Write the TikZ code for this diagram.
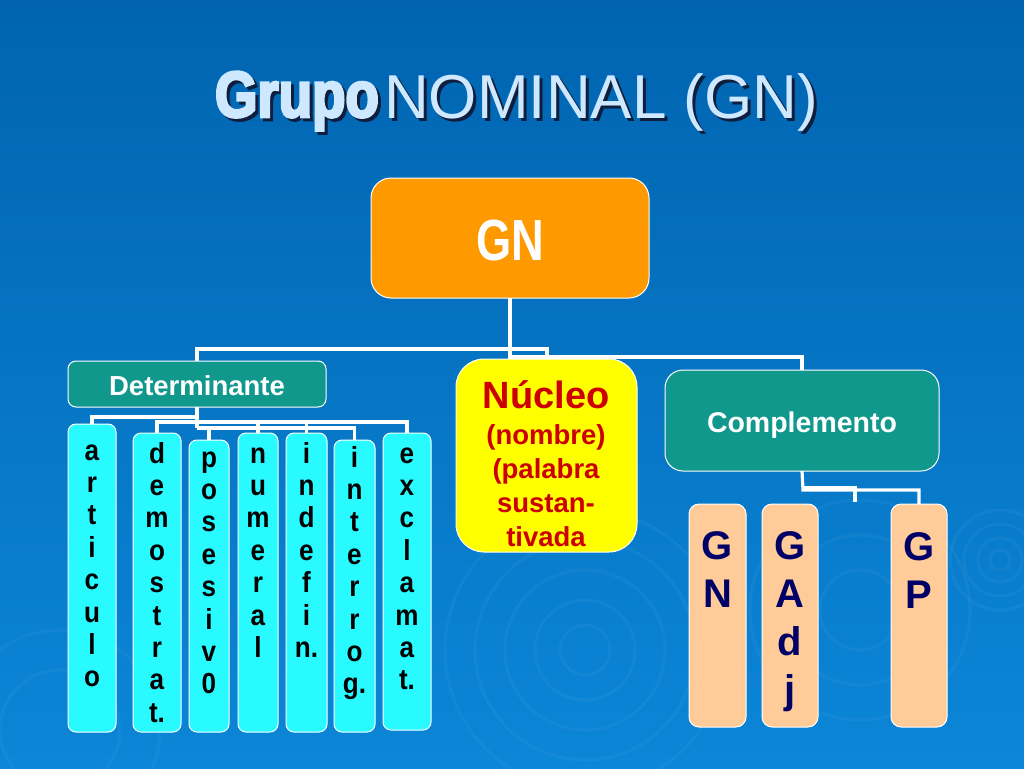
\documentclass[tikz,border=0pt]{standalone}
\usepackage{fontspec}
\setmainfont{Liberation Sans}
\newfontfamily\gnfont[FakeStretch=0.78]{Liberation Sans}
\newfontfamily\colfont[FakeStretch=0.9]{Liberation Sans}
\newfontfamily\impactish[FakeStretch=0.84,BoldFeatures={FakeBold=4}]{Liberation Sans}
\definecolor{bgtop}{RGB}{0,100,176}
\definecolor{bgbot}{RGB}{12,134,216}
\definecolor{titlec}{RGB}{205,232,255}
\definecolor{shadowc}{RGB}{15,30,60}
\definecolor{orangec}{RGB}{255,153,0}
\definecolor{tealc}{RGB}{16,152,140}
\definecolor{yellowc}{RGB}{255,255,0}
\definecolor{redc}{RGB}{204,0,0}
\definecolor{cyanc}{RGB}{40,250,255}
\definecolor{peachc}{RGB}{255,204,153}
\definecolor{navyc}{RGB}{0,0,102}
\newcommand{\lettercol}[1]{\begin{tabular}[t]{@{}c@{}}#1\end{tabular}}
\newcommand{\shadowed}[1]{\makebox[0pt][l]{\hspace{3pt}\raisebox{-3pt}{\color{shadowc}#1}}#1}
\tikzset{
  box/.style={draw=white, line width=1pt, inner sep=0pt, outer sep=0pt},
  cybox/.style={box, fill=cyanc, rounded corners=8pt, minimum width=#1, minimum height=300pt},
  pebox/.style={box, fill=peachc, rounded corners=10pt, minimum width=56pt, minimum height=223pt},
  coltext/.style={inner sep=0pt, anchor=base, font=\colfont\bfseries\fontsize{29}{32.4}\selectfont},
  petext/.style={inner sep=0pt, anchor=base, text=navyc, font=\bfseries\fontsize{40}{48}\selectfont},
  conn/.style={draw=white, line width=3.2pt},
  ripple/.style={draw=white, opacity=0.04, line width=3pt}
}
\begin{document}
\begin{tikzpicture}[x=1pt,y=-1pt]
\useasboundingbox (0,0) rectangle (1024,768);
\shade[top color=bgtop, bottom color=bgbot] (0,0) rectangle (1024,768);
% ripples
\foreach \r in {25,50,80,110,140} \draw[ripple] (585,650) circle[radius=\r pt];
\foreach \r in {40,75,110} \draw[ripple] (860,610) circle[radius=\r pt];
\foreach \r in {10,22,36,50} \draw[ripple] (1000,560) circle[radius=\r pt];
\foreach \r in {60,100} \draw[ripple] (60,730) circle[radius=\r pt];

% title
\node[anchor=base east, inner sep=0pt, text=titlec, font=\impactish\bfseries\fontsize{65}{70}\selectfont] (grupo) at (379,117) {\shadowed{Grupo}};
\node[anchor=base west, inner sep=0pt, text=titlec, font=\fontsize{62}{70}\selectfont] (nom) at (384,118) {\shadowed{NOMINAL (GN)}};

% main boxes
\node[box, fill=orangec, rounded corners=20pt, minimum width=278pt, minimum height=120pt] (gn) at (510,238) {};
\node[inner sep=0pt, anchor=base, text=white, font=\gnfont\bfseries\fontsize{58}{60}\selectfont] (gnT) at (510,260) {GN};

\node[box, fill=tealc, rounded corners=8pt, minimum width=258pt, minimum height=46pt] (det) at (197,384) {};
\node[inner sep=0pt, anchor=base, text=white, font=\bfseries\fontsize{27.5}{30}\selectfont] (detT) at (197,395) {Determinante};

\node[box, fill=yellowc, rounded corners=28pt, minimum width=181pt, minimum height=193pt] (nuc) at (546.5,455.5) {};
\node[inner sep=0pt, anchor=base, text=redc, font=\bfseries\fontsize{38}{40}\selectfont] (nucT) at (546,408) {Núcleo};
\node[inner sep=0pt, anchor=base, text=redc, font=\bfseries\fontsize{27.5}{34}\selectfont] (nucS) at (546,444) {\lettercol{(nombre)\\(palabra\\sustan-\\tivada}};

\node[box, fill=tealc, rounded corners=18pt, minimum width=274pt, minimum height=101pt] (comp) at (802,420.5) {};
\node[inner sep=0pt, anchor=base, text=white, font=\bfseries\fontsize{28.5}{30}\selectfont] (compT) at (802,432) {Complemento};

% determinante children
\node[cybox=48pt, minimum height=308pt] (art) at (92,578) {};
\node[cybox=48pt, minimum height=299pt] (dem) at (157,582.5) {};
\node[cybox=40pt, minimum height=292pt] (pos) at (209,586) {};
\node[cybox=40pt, minimum height=299pt] (num) at (258,582.5) {};
\node[cybox=41pt, minimum height=299pt] (ind) at (306.5,582.5) {};
\node[cybox=41pt, minimum height=292pt] (int) at (354.5,586) {};
\node[cybox=48pt, minimum height=297pt] (exc) at (407,581.5) {};

\node[coltext] (artT) at (92,460) {\lettercol{a\\r\\t\\i\\c\\u\\l\\o}};
\node[coltext] (demT) at (157,463) {\lettercol{d\\e\\m\\o\\s\\t\\r\\a\\t.}};
\node[coltext] (posT) at (209,467) {\lettercol{p\\o\\s\\e\\s\\i\\v\\0}};
\node[coltext] (numT) at (258,463) {\lettercol{n\\u\\m\\e\\r\\a\\l}};
\node[coltext] (indT) at (306.5,463) {\lettercol{i\\n\\d\\e\\f\\i\\n.}};
\node[coltext] (intT) at (354.5,467) {\lettercol{i\\n\\t\\e\\r\\r\\o\\g.}};
\node[coltext] (excT) at (407,463) {\lettercol{e\\x\\c\\l\\a\\m\\a\\t.}};

% complemento children
\node[pebox, minimum width=57pt] (cgn) at (717.5,615.5) {};
\node[pebox] (cgadj) at (790,615.5) {};
\node[pebox] (cgp) at (919,615.5) {};
\node[petext] (cgnT) at (717.5,559) {\lettercol{G\\N}};
\node[petext] (cgadjT) at (790,559) {\lettercol{G\\A\\d\\j}};
\node[petext] (cgpT) at (919,560) {\lettercol{G\\P}};

% connectors top level
\coordinate (jA) at (510,357);
\coordinate (jB) at (547,349);
\draw[conn] (gn.south) -- (jA) -| (comp.north);
\draw[conn] (det.north) |- (jB) -- (jB |- jA);

% connectors determinante
\coordinate (d1) at (197,417);
\coordinate (d2) at (197,422);
\coordinate (d3) at (197,428);
\draw[conn] (det.south) -- (d3);
\draw[conn] (d1) -| (art.north);
\draw[conn] (dem.north) |- (d2) -| (exc.north);
\draw[conn] (num.north) -- (num.north |- d2);
\draw[conn] (ind.north) -- (ind.north |- d2);
\draw[conn] (pos.north) |- (d3) -| (int.north);
\draw[conn] (d1) -- (d1 -| dem.north);

% connectors complemento
\coordinate (c1) at (803,490);
\coordinate (c2) at (855,488);
\draw[conn] (comp.south) -- (c1) -| (cgp.north);
\draw[conn] (c1 |- c2) -- (c2) -- ++(0,14);
\end{tikzpicture}
\end{document}
